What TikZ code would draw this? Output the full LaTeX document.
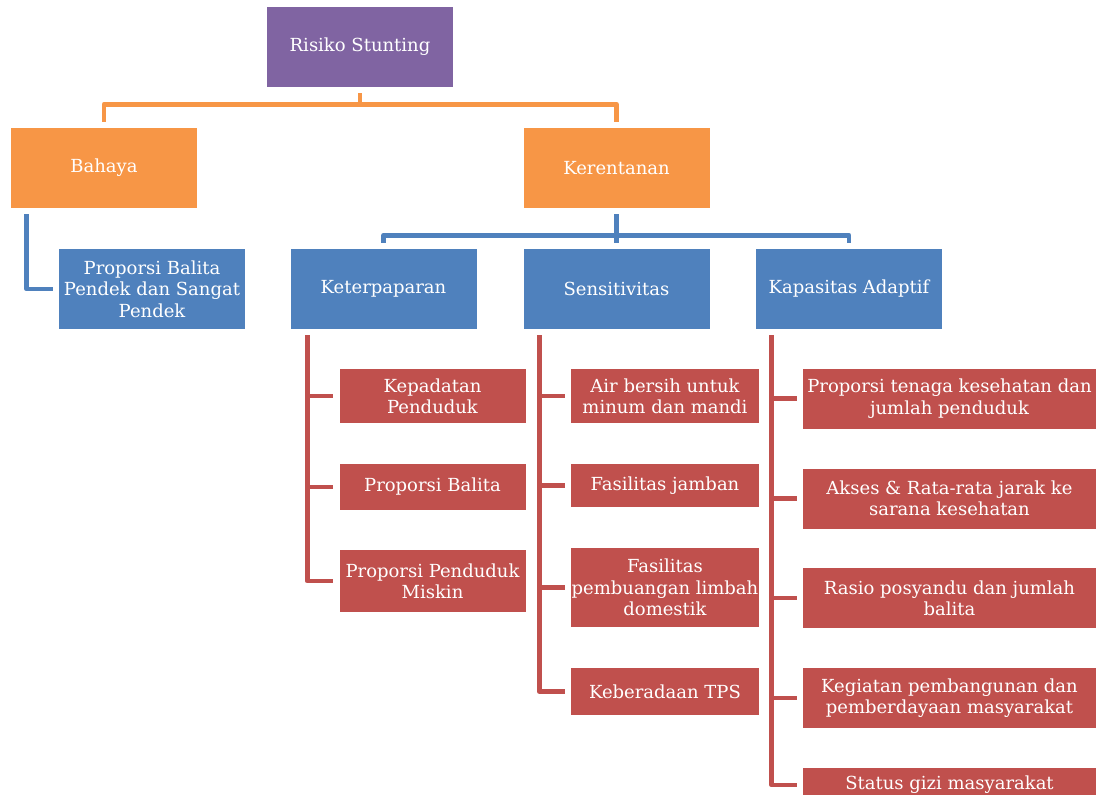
\documentclass[tikz,border=0pt]{standalone}
\usepackage{fontspec}
\setmainfont{DejaVu Serif}
\usetikzlibrary{calc}

\definecolor{ungu}{HTML}{8064A2}
\definecolor{oranye}{HTML}{F79646}
\definecolor{biru}{HTML}{4F81BD}
\definecolor{merah}{HTML}{C0504D}

\tikzset{
  kotak/.style={fill=#1, text=white, align=center, inner sep=0pt,
    font=\fontsize{13.5}{16}\selectfont},
  garis/.style={draw=#1, line width=3.6pt, line join=round,
    shorten <=4.5pt, shorten >=4.5pt}
}

\begin{document}
\begin{tikzpicture}[x=0.75pt, y=-0.75pt]
    \useasboundingbox (0,0) rectangle (1096,794);

    % Tingkat atas
    \node[kotak=ungu, minimum width=139.5pt, minimum height=60pt] (risiko) at (360,47) {Risiko Stunting};
    \node[kotak=oranye, minimum width=139.5pt, minimum height=60pt] (bahaya) at (104,168) {Bahaya};
    \node[kotak=oranye, minimum width=139.5pt, minimum height=60pt] (kerentanan) at (616.5,168) {Kerentanan};

    % Tingkat kedua
    \node[kotak=biru, minimum width=139.5pt, minimum height=60pt] (pendek) at (152,289) {Proporsi Balita\\Pendek dan Sangat\\Pendek};
    \node[kotak=biru, minimum width=139.5pt, minimum height=60pt] (keterpaparan) at (383.5,289) {Keterpaparan};
    \node[kotak=biru, minimum width=139.5pt, minimum height=60pt] (sensitivitas) at (616.5,289) {Sensitivitas};
    \node[kotak=biru, minimum width=139.5pt, minimum height=60pt] (kapasitas) at (849,289) {Kapasitas Adaptif};

    % Indikator keterpaparan
    \node[kotak=merah, minimum width=139.5pt, minimum height=40.5pt] (kepadatan) at (432.5,396) {Kepadatan\\Penduduk};
    \node[kotak=merah, minimum width=139.5pt, minimum height=34.5pt] (balita) at (432.5,487) {Proporsi Balita};
    \node[kotak=merah, minimum width=139.5pt, minimum height=46.5pt] (miskin) at (432.5,581) {Proporsi Penduduk\\Miskin};

    % Indikator sensitivitas
    \node[kotak=merah, minimum width=141pt, minimum height=40.5pt] (air) at (665,396) {Air bersih untuk\\minum dan mandi};
    \node[kotak=merah, minimum width=141pt, minimum height=32.5pt] (jamban) at (665,485.5) {Fasilitas jamban};
    \node[kotak=merah, minimum width=141pt, minimum height=59.5pt] (limbah) at (665,587.5) {Fasilitas\\pembuangan limbah\\domestik};
    \node[kotak=merah, minimum width=141pt, minimum height=35pt] (tps) at (665,691.5) {Keberadaan TPS};

    % Indikator kapasitas adaptif
    \node[kotak=merah, minimum width=219.75pt, minimum height=45pt] (tenaga) at (949.5,398.5) {Proporsi tenaga kesehatan dan\\jumlah penduduk};
    \node[kotak=merah, minimum width=219.75pt, minimum height=45pt] (akses) at (949.5,498.5) {Akses \& Rata-rata jarak ke\\sarana kesehatan};
    \node[kotak=merah, minimum width=219.75pt, minimum height=45pt] (posyandu) at (949.5,598) {Rasio posyandu dan jumlah\\balita};
    \node[kotak=merah, minimum width=219.75pt, minimum height=45pt] (kegiatan) at (949.5,698) {Kegiatan pembangunan dan\\pemberdayaan masyarakat};
    \node[kotak=merah, minimum width=219.75pt, minimum height=25.5pt] (gizi) at (949.5,785) {Status gizi masyarakat};

    % Garis penghubung
    \draw[garis=oranye] (risiko.south) -- ++(0,17) -| (bahaya.north);
    \draw[garis=oranye] (risiko.south) -- ++(0,17) -| (kerentanan.north);
    \draw[garis=biru] ($(bahaya.south west)+(16,0)$) |- (pendek.west);
    \foreach \anak in {keterpaparan,sensitivitas,kapasitas}
      \draw[garis=biru] (kerentanan.south) -- ++(0,27) -| (\anak.north);
    \foreach \anak in {kepadatan,balita,miskin}
      \draw[garis=merah] ($(keterpaparan.south west)+(17,0)$) |- (\anak.west);
    \foreach \anak in {air,jamban,limbah,tps}
      \draw[garis=merah] ($(sensitivitas.south west)+(16,0)$) |- (\anak.west);
    \foreach \anak in {tenaga,akses,posyandu,kegiatan,gizi}
      \draw[garis=merah] ($(kapasitas.south west)+(16,0)$) |- (\anak.west);
\end{tikzpicture}
\end{document}
